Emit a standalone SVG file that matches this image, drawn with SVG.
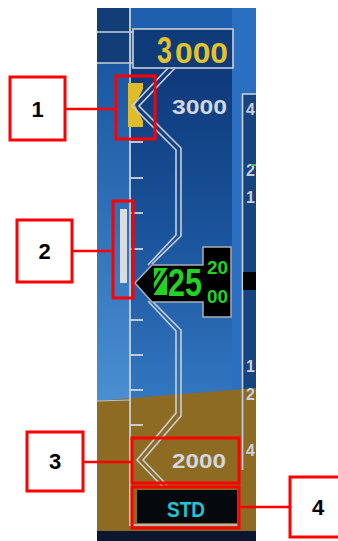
<svg xmlns="http://www.w3.org/2000/svg" width="338" height="541" viewBox="0 0 338 541">
<style>
.lbl{font-family:"Liberation Sans",Arial,sans-serif;font-weight:bold;font-size:22px;fill:#000;text-anchor:middle}
.rb{fill:none;stroke:#ff0000;stroke-width:3}
.lb{fill:#fff;stroke:#ff0000;stroke-width:3}
.rl{stroke:#ff0000;stroke-width:2.5;fill:none}
.gl{fill:none;stroke:#c9d0d8;stroke-width:1.6;stroke-linejoin:miter}
.num{font-family:"Liberation Sans",Arial,sans-serif;font-weight:bold}
</style>
<defs>
<linearGradient id="skyL" x1="0" y1="0" x2="0" y2="1">
<stop offset="0" stop-color="#1b57a3"/>
<stop offset="1" stop-color="#4a8fd2"/>
</linearGradient>
<linearGradient id="skyT" x1="0" y1="0" x2="0" y2="1">
<stop offset="0" stop-color="#0e397a"/>
<stop offset="0.5" stop-color="#1a549c"/>
<stop offset="1" stop-color="#3478c2"/>
</linearGradient>
<clipPath id="pan"><rect x="97" y="8" width="159" height="533"/></clipPath>
</defs>
<rect width="338" height="541" fill="#fff"/>
<g id="display" clip-path="url(#pan)">
<rect x="97" y="8" width="159" height="533" fill="#1e5fae"/>
<rect x="97" y="63" width="33" height="340" fill="url(#skyL)"/>
<rect x="97" y="8" width="33" height="55" fill="#123d77"/>
<rect x="130" y="68" width="102" height="335" fill="url(#skyT)"/>
<rect x="232" y="8" width="24" height="395" fill="#2a6fc0"/>
<rect x="242" y="94" width="16" height="310" fill="#17437f"/>
<polygon points="97,401 256,388 256,541 97,541" fill="#8d6b22"/>
<line x1="97" y1="401" x2="130" y2="400" stroke="#b8c4cc" stroke-width="1.2"/>
<rect x="97" y="531" width="159" height="10" fill="#0b1630"/>
<line x1="97" y1="32" x2="133" y2="32" stroke="#c9d0d8" stroke-width="1.6"/>
<line x1="97" y1="63" x2="133" y2="63" stroke="#c9d0d8" stroke-width="1.6"/>
<line x1="130" y1="8" x2="130" y2="526" stroke="#c9d0d8" stroke-width="1.8"/>
<line x1="130" y1="525" x2="240" y2="525" stroke="#c9d0d8" stroke-width="1.6"/>
<line x1="242.5" y1="94" x2="242.5" y2="470" stroke="#c9d0d8" stroke-width="1.6"/>
<line x1="242" y1="94" x2="258" y2="94" stroke="#c9d0d8" stroke-width="1.6"/>
<g stroke="#d0d6dc" stroke-width="1.8">
<line x1="130" y1="142" x2="143" y2="142"/>
<line x1="130" y1="178" x2="143" y2="178"/>
<line x1="130" y1="213" x2="143" y2="213"/>
<line x1="130" y1="249" x2="143" y2="249"/>
<line x1="130" y1="320" x2="143" y2="320"/>
<line x1="130" y1="355" x2="143" y2="355"/>
<line x1="130" y1="390" x2="143" y2="390"/>
<line x1="130" y1="425" x2="143" y2="425"/>
</g>
<text class="num" x="172" y="114" font-size="20" fill="#d3d8de" textLength="55" lengthAdjust="spacingAndGlyphs">3000</text>
<text class="num" x="172" y="468" font-size="20" fill="#d3d8de" textLength="54" lengthAdjust="spacingAndGlyphs">2000</text>
<g class="num" font-size="16" fill="#c9d0d8">
<text x="246" y="115">4</text>
<text x="246" y="176">2</text>
<text x="246" y="203">1</text>
<text x="246" y="372">1</text>
<text x="246" y="400">2</text>
<text x="246" y="456">4</text>
</g>
<line x1="251" y1="165" x2="256" y2="165" stroke="#30d030" stroke-width="2"/>
<rect x="243" y="272" width="14" height="18" fill="#000"/>
</g>
<g id="sel-alt">
<rect x="133" y="29" width="100" height="39" fill="#0f3b7a" stroke="#c9d0d8" stroke-width="1.6"/>
<text class="num" x="157" y="63" font-size="36" fill="#e3c22c" textLength="15" lengthAdjust="spacingAndGlyphs">3</text>
<text class="num" x="175" y="63" font-size="29" fill="#e3c22c" textLength="53" lengthAdjust="spacingAndGlyphs">000</text>
</g>
<g id="yellow-marker">
<polygon points="128,83 143,83 143,89 135,105 143,121 143,127 128,127" fill="#e0bb2a"/>
</g>
<g id="white-bar">
<rect x="120" y="209" width="7" height="74" fill="#d8dde2"/>
</g>
<g id="band">
<polyline class="gl" points="168,68 132,106 176,150 176,235 148,265"/>
<polyline class="gl" points="175,68 139,106 181,148 181,236 152,264"/>
<polyline class="gl" points="148,301 176,331 176,413 137,460 163,487"/>
<polyline class="gl" points="152,301 181,330 181,416 143,460 167,485"/>
</g>
<g id="pointer">
<path d="M135,283 L152,265 L203,265 L203,247 L231,247 L231,317 L203,317 L203,302 L152,302 Z" fill="#000" stroke="#a8b0b8" stroke-width="1.5"/>
<polygon points="154,268 167,268 167,295 154,295" fill="#22d322"/>
<line x1="153" y1="293" x2="168" y2="270" stroke="#000" stroke-width="3"/>
<line x1="153" y1="282" x2="160" y2="271" stroke="#000" stroke-width="2"/>
<text class="num" transform="translate(168,296) scale(0.8,1)" x="0" y="0" font-size="38" fill="#22d322">25</text>
<text class="num" x="207" y="274" font-size="18" fill="#22d322" textLength="21" lengthAdjust="spacingAndGlyphs">20</text>
<text class="num" x="207" y="303" font-size="18" fill="#22d322" textLength="21" lengthAdjust="spacingAndGlyphs">00</text>
</g>
<g id="std">
<rect x="137" y="490" width="100" height="33" fill="#05080c"/>
<text class="num" x="167" y="517" font-size="22" fill="#20c4d2" textLength="38" lengthAdjust="spacingAndGlyphs">STD</text>
</g>
<g id="connectors">
<line class="rl" x1="65" y1="109" x2="116" y2="109"/>
<line class="rl" x1="72" y1="251" x2="113" y2="251"/>
<line class="rl" x1="83" y1="462" x2="132" y2="462"/>
<line class="rl" x1="239" y1="507" x2="290" y2="507"/>
</g>
<g id="callout-1">
<rect class="rb" x="116" y="76" width="39" height="63"/>
<rect class="lb" x="10" y="77" width="55" height="63"/>
<text class="lbl" x="37.5" y="117">1</text>
</g>
<g id="callout-2">
<rect class="rb" x="113" y="201" width="20" height="97"/>
<rect class="lb" x="17" y="220" width="55" height="62"/>
<text class="lbl" x="44.5" y="259">2</text>
</g>
<g id="callout-3">
<rect class="rb" x="132" y="438" width="107" height="45"/>
<rect class="lb" x="27" y="432" width="56" height="59"/>
<text class="lbl" x="55" y="469">3</text>
</g>
<g id="callout-4">
<rect class="rb" x="132" y="487" width="107" height="41"/>
<rect class="lb" x="290" y="477" width="56" height="60"/>
<text class="lbl" x="318" y="515">4</text>
</g>
</svg>
